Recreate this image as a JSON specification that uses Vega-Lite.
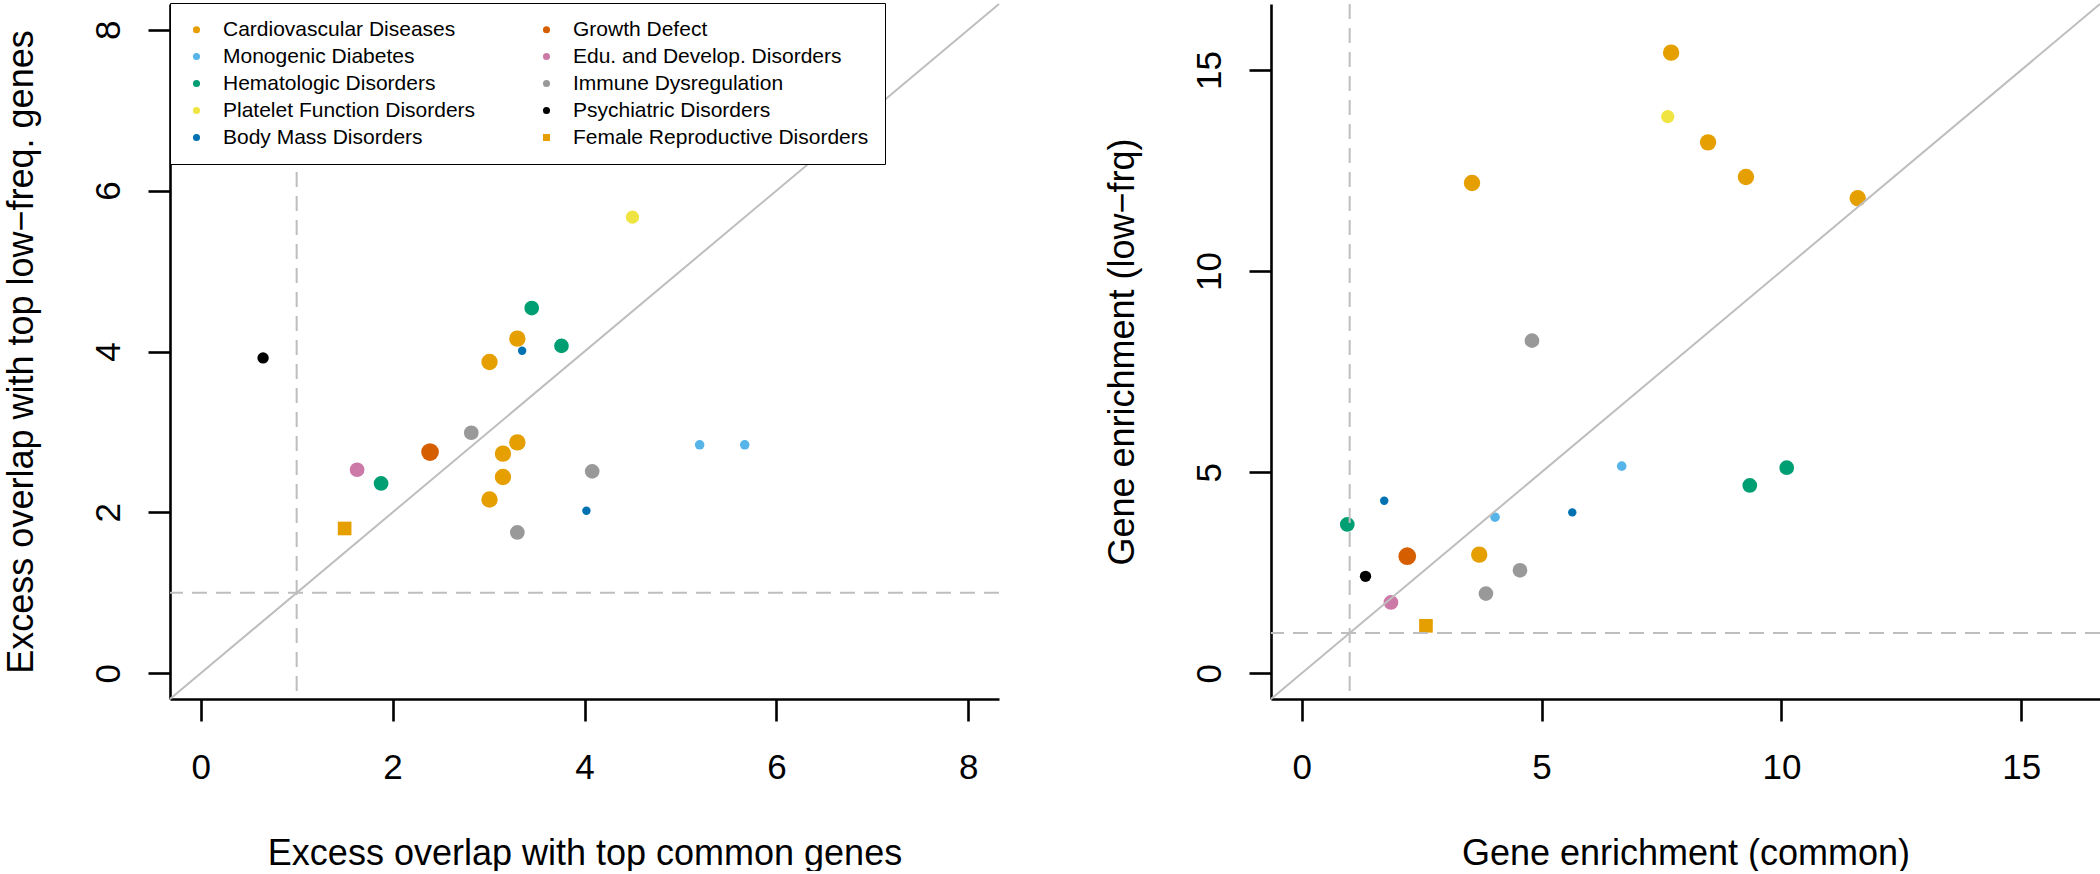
{
  "$schema": "https://vega.github.io/schema/vega-lite/v6.json",
  "background": "white",
  "padding": {"left": 3, "top": 2, "right": 0, "bottom": 0},
  "spacing": 272,
  "bounds": "flush",
  "config": {
    "view": {"stroke": null},
    "font": "Liberation Sans",
    "point": {"filled": true, "opacity": 1, "strokeWidth": 0},
    "axis": {
      "grid": false,
      "domainColor": "black",
      "domainWidth": 2.6,
      "tickColor": "black",
      "tickWidth": 2.6,
      "tickSize": 22,
      "labelFont": "Liberation Sans",
      "labelFontSize": 35,
      "labelColor": "black",
      "labelFlush": false,
      "labelOverlap": false,
      "format": "d",
      "titleFont": "Liberation Sans",
      "titleFontSize": 36,
      "titleFontWeight": "normal",
      "titleColor": "black"
    },
    "axisX": {"labelAngle": 0, "labelBaseline": "alphabetic", "labelPadding": 57, "titleBaseline": "alphabetic", "titleY": 165},
    "axisY": {"labelAngle": -90, "labelAlign": "center", "labelBaseline": "alphabetic", "labelPadding": 29, "titleAngle": -90, "titleBaseline": "alphabetic", "titleX": -138},
    "legend": {
      "title": null,
      "labelFont": "Liberation Sans",
      "labelFontSize": 21,
      "labelColor": "black",
      "labelLimit": 0,
      "labelOffset": 16,
      "symbolSize": 50,
      "symbolStrokeWidth": 0,
      "rowPadding": 5,
      "columnPadding": 60,
      "padding": 16,
      "strokeColor": "black",
      "fillColor": "white"
    }
  },
  "datasets": {
    "left": [
      {"group": "Cardiovascular Diseases", "x": 3.30, "y": 4.16},
      {"group": "Cardiovascular Diseases", "x": 3.01, "y": 3.87},
      {"group": "Cardiovascular Diseases", "x": 3.30, "y": 2.87},
      {"group": "Cardiovascular Diseases", "x": 3.15, "y": 2.73},
      {"group": "Cardiovascular Diseases", "x": 3.15, "y": 2.44},
      {"group": "Cardiovascular Diseases", "x": 3.01, "y": 2.16},
      {"group": "Hematologic Disorders", "x": 3.45, "y": 4.54},
      {"group": "Hematologic Disorders", "x": 3.76, "y": 4.07},
      {"group": "Hematologic Disorders", "x": 1.88, "y": 2.36},
      {"group": "Monogenic Diabetes", "x": 5.20, "y": 2.84},
      {"group": "Monogenic Diabetes", "x": 5.67, "y": 2.84},
      {"group": "Immune Dysregulation", "x": 2.82, "y": 2.99},
      {"group": "Immune Dysregulation", "x": 4.08, "y": 2.51},
      {"group": "Immune Dysregulation", "x": 3.30, "y": 1.75},
      {"group": "Platelet Function Disorders", "x": 4.50, "y": 5.67},
      {"group": "Growth Defect", "x": 2.39, "y": 2.75},
      {"group": "Edu. and Develop. Disorders", "x": 1.63, "y": 2.53},
      {"group": "Psychiatric Disorders", "x": 0.65, "y": 3.92},
      {"group": "Female Reproductive Disorders", "x": 1.50, "y": 1.80},
      {"group": "Body Mass Disorders", "x": 3.35, "y": 4.01},
      {"group": "Body Mass Disorders", "x": 4.02, "y": 2.02}
    ],
    "right": [
      {"group": "Cardiovascular Diseases", "x": 7.70, "y": 15.43},
      {"group": "Cardiovascular Diseases", "x": 8.47, "y": 13.20},
      {"group": "Cardiovascular Diseases", "x": 9.26, "y": 12.34},
      {"group": "Cardiovascular Diseases", "x": 11.59, "y": 11.81},
      {"group": "Cardiovascular Diseases", "x": 3.55, "y": 12.19},
      {"group": "Cardiovascular Diseases", "x": 3.70, "y": 2.95},
      {"group": "Platelet Function Disorders", "x": 7.63, "y": 13.84},
      {"group": "Immune Dysregulation", "x": 4.80, "y": 8.27},
      {"group": "Immune Dysregulation", "x": 4.55, "y": 2.56},
      {"group": "Immune Dysregulation", "x": 3.84, "y": 1.98},
      {"group": "Monogenic Diabetes", "x": 6.67, "y": 5.15},
      {"group": "Monogenic Diabetes", "x": 4.03, "y": 3.88},
      {"group": "Hematologic Disorders", "x": 10.11, "y": 5.11},
      {"group": "Hematologic Disorders", "x": 9.34, "y": 4.67},
      {"group": "Hematologic Disorders", "x": 0.95, "y": 3.70},
      {"group": "Growth Defect", "x": 2.20, "y": 2.91},
      {"group": "Psychiatric Disorders", "x": 1.33, "y": 2.41},
      {"group": "Edu. and Develop. Disorders", "x": 1.86, "y": 1.76},
      {"group": "Female Reproductive Disorders", "x": 2.59, "y": 1.18},
      {"group": "Body Mass Disorders", "x": 1.72, "y": 4.29},
      {"group": "Body Mass Disorders", "x": 5.64, "y": 4.00}
    ]
  },
  "hconcat": [
    {
      "width": 829,
      "height": 695,
      "layer": [
        {
          "data": {"name": "left"},
          "encoding": {
            "x": {"field": "x", "type": "quantitative", "scale": {"domain": [-0.32, 8.32], "nice": false, "zero": false}, "axis": {"values": [0, 2, 4, 6, 8], "title": "Excess overlap with top common genes"}},
            "y": {"field": "y", "type": "quantitative", "scale": {"domain": [-0.32, 8.32], "nice": false, "zero": false}, "axis": {"values": [0, 2, 4, 6, 8], "title": "Excess overlap with top low−freq. genes"}},
            "color": {
              "field": "group", "type": "nominal",
              "scale": {
                "domain": ["Cardiovascular Diseases", "Monogenic Diabetes", "Hematologic Disorders", "Platelet Function Disorders", "Body Mass Disorders", "Growth Defect", "Edu. and Develop. Disorders", "Immune Dysregulation", "Psychiatric Disorders", "Female Reproductive Disorders"],
                "range": ["#E69F00", "#56B4E9", "#009E73", "#F0E442", "#0072B2", "#D55E00", "#CC79A7", "#999999", "#000000", "#E69F00"]
              },
              "legend": {"orient": "none", "legendX": 0, "legendY": -1, "columns": 2}
            },
            "shape": {
              "field": "group", "type": "nominal",
              "scale": {
                "domain": ["Cardiovascular Diseases", "Monogenic Diabetes", "Hematologic Disorders", "Platelet Function Disorders", "Body Mass Disorders", "Growth Defect", "Edu. and Develop. Disorders", "Immune Dysregulation", "Psychiatric Disorders", "Female Reproductive Disorders"],
                "range": ["circle", "circle", "circle", "circle", "circle", "circle", "circle", "circle", "circle", "square"]
              },
              "legend": {"orient": "none", "legendX": 0, "legendY": -1, "columns": 2}
            }
          },
          "layer": [
            {"transform": [{"filter": {"field": "group", "oneOf": ["Growth Defect"]}}], "mark": {"type": "point", "size": 314}},
            {"transform": [{"filter": {"field": "group", "oneOf": ["Cardiovascular Diseases"]}}], "mark": {"type": "point", "size": 269}},
            {"transform": [{"filter": {"field": "group", "oneOf": ["Edu. and Develop. Disorders", "Hematologic Disorders", "Immune Dysregulation"]}}], "mark": {"type": "point", "size": 217}},
            {"transform": [{"filter": {"field": "group", "oneOf": ["Female Reproductive Disorders"]}}], "mark": {"type": "point", "size": 187}},
            {"transform": [{"filter": {"field": "group", "oneOf": ["Platelet Function Disorders"]}}], "mark": {"type": "point", "size": 177}},
            {"transform": [{"filter": {"field": "group", "oneOf": ["Psychiatric Disorders"]}}], "mark": {"type": "point", "size": 129}},
            {"transform": [{"filter": {"field": "group", "oneOf": ["Monogenic Diabetes"]}}], "mark": {"type": "point", "size": 91}},
            {"transform": [{"filter": {"field": "group", "oneOf": ["Body Mass Disorders"]}}], "mark": {"type": "point", "size": 71}}
          ]
        },
        {
          "data": {"values": [{}]},
          "mark": {"type": "rule", "color": "#BEBEBE", "strokeWidth": 2, "strokeDash": [15, 9]},
          "encoding": {"x": {"datum": 1}}
        },
        {
          "data": {"values": [{}]},
          "mark": {"type": "rule", "color": "#BEBEBE", "strokeWidth": 2, "strokeDash": [15, 9]},
          "encoding": {"y": {"datum": 1}}
        },
        {
          "data": {"values": [{}]},
          "mark": {"type": "rule", "color": "#BEBEBE", "strokeWidth": 2},
          "encoding": {"x": {"datum": -0.32}, "y": {"datum": -0.32}, "x2": {"datum": 8.32}, "y2": {"datum": 8.32}}
        }
      ]
    },
    {
      "width": 829,
      "height": 695,
      "layer": [
        {
          "data": {"name": "right"},
          "encoding": {
            "x": {"field": "x", "type": "quantitative", "scale": {"domain": [-0.64, 16.64], "nice": false, "zero": false}, "axis": {"values": [0, 5, 10, 15], "title": "Gene enrichment (common)"}},
            "y": {"field": "y", "type": "quantitative", "scale": {"domain": [-0.64, 16.64], "nice": false, "zero": false}, "axis": {"values": [0, 5, 10, 15], "title": "Gene enrichment (low−frq)"}},
            "color": {"field": "group", "type": "nominal"},
            "shape": {"field": "group", "type": "nominal"}
          },
          "layer": [
            {"transform": [{"filter": {"field": "group", "oneOf": ["Growth Defect"]}}], "mark": {"type": "point", "size": 314}},
            {"transform": [{"filter": {"field": "group", "oneOf": ["Cardiovascular Diseases"]}}], "mark": {"type": "point", "size": 269}},
            {"transform": [{"filter": {"field": "group", "oneOf": ["Edu. and Develop. Disorders", "Hematologic Disorders", "Immune Dysregulation"]}}], "mark": {"type": "point", "size": 217}},
            {"transform": [{"filter": {"field": "group", "oneOf": ["Female Reproductive Disorders"]}}], "mark": {"type": "point", "size": 187}},
            {"transform": [{"filter": {"field": "group", "oneOf": ["Platelet Function Disorders"]}}], "mark": {"type": "point", "size": 177}},
            {"transform": [{"filter": {"field": "group", "oneOf": ["Psychiatric Disorders"]}}], "mark": {"type": "point", "size": 129}},
            {"transform": [{"filter": {"field": "group", "oneOf": ["Monogenic Diabetes"]}}], "mark": {"type": "point", "size": 91}},
            {"transform": [{"filter": {"field": "group", "oneOf": ["Body Mass Disorders"]}}], "mark": {"type": "point", "size": 71}}
          ]
        },
        {
          "data": {"values": [{}]},
          "mark": {"type": "rule", "color": "#BEBEBE", "strokeWidth": 2, "strokeDash": [15, 9]},
          "encoding": {"x": {"datum": 1}}
        },
        {
          "data": {"values": [{}]},
          "mark": {"type": "rule", "color": "#BEBEBE", "strokeWidth": 2, "strokeDash": [15, 9]},
          "encoding": {"y": {"datum": 1}}
        },
        {
          "data": {"values": [{}]},
          "mark": {"type": "rule", "color": "#BEBEBE", "strokeWidth": 2},
          "encoding": {"x": {"datum": -0.64}, "y": {"datum": -0.64}, "x2": {"datum": 16.64}, "y2": {"datum": 16.64}}
        }
      ]
    }
  ]
}
